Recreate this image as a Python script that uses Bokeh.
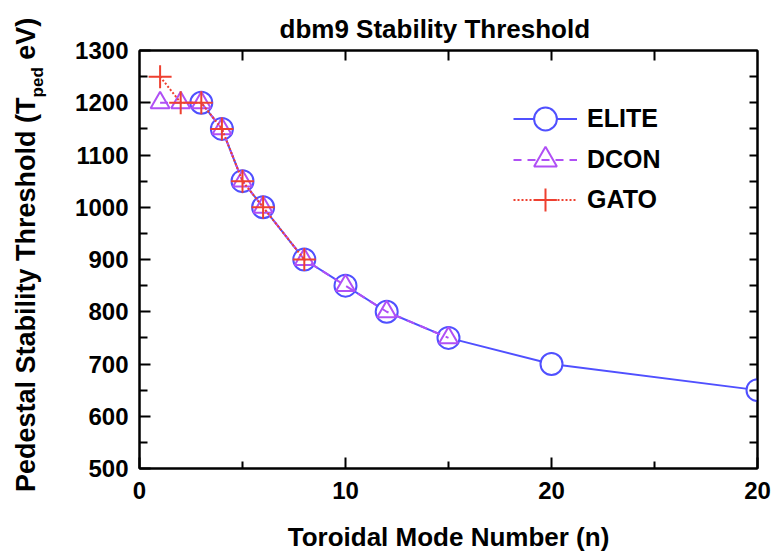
from bokeh.plotting import figure
from bokeh.layouts import row
from bokeh.models import Range1d, LinearAxis, FixedTicker, Legend, LegendItem, Div
from bokeh.embed import file_html
from bokeh.resources import INLINE

# ---- data ----
elite_n = [3, 4, 5, 6, 8, 10, 12, 15, 20, 30]
elite_t = [1200, 1150, 1050, 1000, 900, 850, 800, 750, 700, 650]
dcon_n = [1, 2, 3, 4, 5, 6, 8, 10, 12, 15]
dcon_t = [1200, 1200, 1200, 1150, 1050, 1000, 900, 850, 800, 750]
gato_n = [1, 2, 3, 4, 5, 6, 8]
gato_t = [1250, 1200, 1200, 1150, 1050, 1000, 900]

x_ticks = [0, 10, 20, 30]
x_tick_labels = ["0", "10", "20", "20"]
x_minor_ticks = [5, 15, 25]
x_top_ticks = [5, 10, 15, 20, 25]
y_ticks = [500, 600, 700, 800, 900, 1000, 1100, 1200, 1300]
y_tick_labels = ["500", "600", "700", "800", "900", "1000", "1100", "1200", "1300"]
y_minor_ticks = [550, 650, 750, 850, 950, 1050, 1150, 1250]
y_right_ticks = [550, 600, 650, 700, 750, 800, 850, 900, 950, 1000, 1050, 1100, 1150, 1200, 1250]

series_names = ["ELITE", "DCON", "GATO"]
title_text = "dbm9 Stability Threshold"
x_label = "Toroidal Mode Number (n)"
y_label_main = "Pedestal Stability Threshold (T"
y_label_sub = "ped"
y_label_end = " eV)"

FONT = "Liberation Sans"
C_ELITE = "#5050ff"
C_DCON = "#b050f5"
C_GATO = "#ee4030"

LABEL_W = 60
H = 554

p = figure(width=774 - LABEL_W, height=H, x_range=Range1d(0, 30), y_range=Range1d(500, 1300),
           output_backend="svg", toolbar_location=None, tools="",
           min_border_left=139 - LABEL_W, min_border_right=17, min_border_top=50,
           min_border_bottom=85, margin=0)
p.background_fill_color = "white"
p.border_fill_color = "white"
p.outline_line_color = "black"
p.outline_line_width = 2
p.xgrid.visible = False
p.ygrid.visible = False

# title
p.title.text = title_text
p.title.align = "left"
p.title.offset = 140
p.title.text_font = FONT
p.title.text_font_style = "bold"
p.title.text_font_size = "26px"
p.title.text_color = "black"
p.title.vertical_align = "top"
p.title.standoff = 10

def style_axis(ax):
    ax.axis_line_color = "black"
    ax.axis_line_width = 2
    ax.major_tick_line_color = "black"
    ax.major_tick_line_width = 2
    ax.minor_tick_line_color = "black"
    ax.minor_tick_line_width = 2
    ax.major_tick_out = 0
    ax.minor_tick_out = 0
    ax.major_label_text_font = FONT
    ax.major_label_text_font_style = "bold"
    ax.major_label_text_font_size = "24px"
    ax.major_label_text_color = "black"

# bottom axis
xa = p.xaxis[0]
style_axis(xa)
xa.ticker = FixedTicker(ticks=x_ticks, minor_ticks=x_minor_ticks)
xa.major_label_overrides = {t: s for t, s in zip(x_ticks, x_tick_labels)}
xa.major_tick_in = 11
xa.minor_tick_in = 7
xa.major_label_standoff = 13
xa.axis_label = x_label
xa.axis_label_text_font = FONT
xa.axis_label_text_font_style = "bold"
xa.axis_label_text_font_size = "26px"
xa.axis_label_text_color = "black"
xa.axis_label_standoff = 20

# left axis
ya = p.yaxis[0]
style_axis(ya)
ya.ticker = FixedTicker(ticks=y_ticks, minor_ticks=y_minor_ticks)
ya.major_label_overrides = {t: s for t, s in zip(y_ticks, y_tick_labels)}
ya.major_tick_in = 11
ya.minor_tick_in = 8
ya.major_label_standoff = 11

# top axis (ticks only)
top = LinearAxis(ticker=FixedTicker(ticks=x_top_ticks, minor_ticks=[]))
style_axis(top)
top.major_tick_in = 10
top.major_label_overrides = {t: "" for t in x_top_ticks}
top.major_label_text_font_size = "1px"
top.major_label_standoff = 0
p.add_layout(top, "above")

# right axis (ticks only)
right = LinearAxis(ticker=FixedTicker(ticks=y_right_ticks, minor_ticks=[]))
style_axis(right)
right.major_tick_in = 8
right.major_label_overrides = {t: "" for t in y_right_ticks}
right.major_label_text_font_size = "1px"
right.major_label_standoff = 0
p.add_layout(right, "right")

# series
l1 = p.line(elite_n, elite_t, line_color=C_ELITE, line_width=2)
s1 = p.scatter(elite_n, elite_t, marker="circle", size=22, line_color=C_ELITE, line_width=2,
               fill_color="white")
l2 = p.line(dcon_n, dcon_t, line_color=C_DCON, line_width=2, line_dash="8 6")
s2 = p.scatter(dcon_n, dcon_t, marker="triangle", size=19, line_color=C_DCON, line_width=2,
               fill_color="white", fill_alpha=0)
l3 = p.line(gato_n, gato_t, line_color=C_GATO, line_width=2, line_dash="2 2")
s3 = p.scatter(gato_n, gato_t, marker="cross", size=23, line_color=C_GATO, line_width=2)

# one legend per entry so that the rows can be 41px apart with big markers
legend_rows = [(series_names[0], [l1, s1], 321),
               (series_names[1], [l2, s2], 280),
               (series_names[2], [l3, s3], 240)]
for name, rends, vy in legend_rows:
    lg = Legend(items=[LegendItem(label=name, renderers=rends)],
                location=(374, vy), orientation="vertical",
                glyph_width=64, glyph_height=57, spacing=0, padding=0, margin=0,
                label_standoff=10, label_text_font=FONT, label_text_font_style="bold",
                label_text_font_size="25px", label_text_color="black",
                border_line_alpha=0, background_fill_alpha=0)
    p.add_layout(lg)

# rotated y-axis title with a real subscript, as HTML text beside the plot
ylabel_html = (
    '<div style="position:relative;width:%dpx;height:%dpx;overflow:visible;background:white;">'
    '<div style="position:absolute;left:13px;top:492px;transform:rotate(-90deg);'
    'transform-origin:0 0;white-space:nowrap;font-family:\'%s\';font-weight:bold;'
    'font-size:27px;line-height:1;color:black;">'
    '%s<span style="font-size:17px;vertical-align:-8px;">%s</span>%s</div></div>'
    % (LABEL_W, H, FONT, y_label_main, y_label_sub, y_label_end)
)
ylab = Div(text=ylabel_html, width=LABEL_W, height=H, margin=0)

layout = row(ylab, p, spacing=0)
open("out.html", "w").write(file_html(layout, INLINE))
